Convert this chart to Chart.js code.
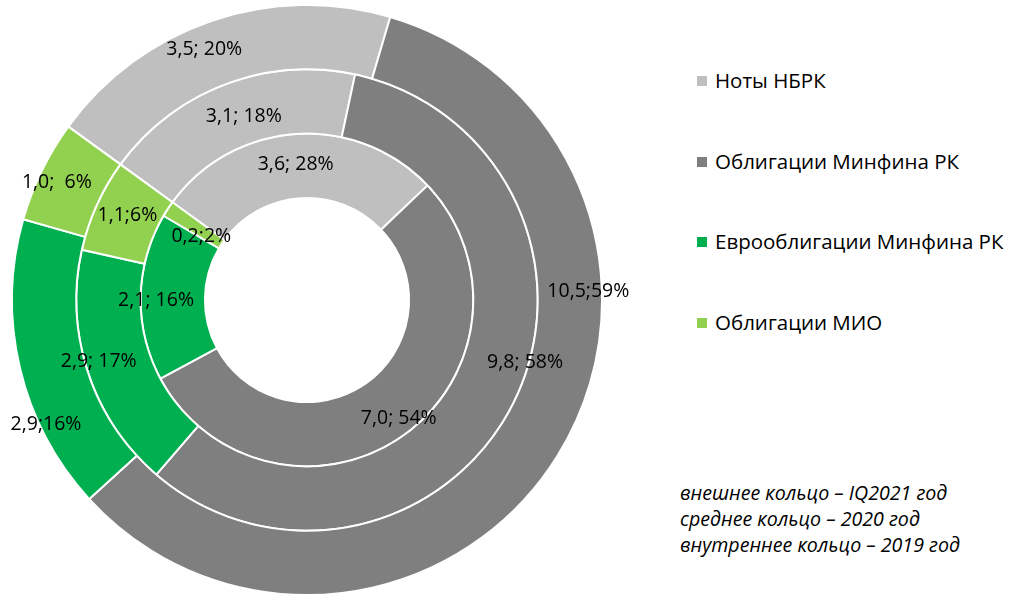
<!DOCTYPE html>
<html lang="ru">
<head>
  <meta charset="UTF-8">
  <title>Структура портфеля</title>
  <script src="https://cdn.jsdelivr.net/npm/chart.js"></script>
  <style>
    body {
      margin: 0;
      background: #fff;
      font-family: "Open Sans", sans-serif;
      color: #000;
    }
    #wrap {
      position: relative;
      width: 1010px;
      height: 598px;
      overflow: hidden;
    }
    #chartBox {
      position: absolute;
      left: 0;
      top: 0;
      width: 640px;
      height: 598px;
    }
    #legend {
      position: absolute;
      left: 697px;
      top: 0;
    }
    .item {
      position: absolute;
      left: 0;
      white-space: nowrap;
      font-size: 20.5px;
      line-height: 24px;
      transform: translateY(-50%);
    }
    .item span.box {
      display: inline-block;
      width: 10px;
      height: 10px;
      margin-right: 8px;
      vertical-align: 2px;
    }
    #note {
      position: absolute;
      left: 680px;
      top: 480px;
      font-style: italic;
      font-size: 19.6px;
      line-height: 26px;
      white-space: nowrap;
    }
  </style>
</head>
<body>
<div id="wrap">
  <div id="chartBox"><canvas id="rings"></canvas></div>
  <div id="legend"></div>
  <div id="note"></div>
</div>

<script>
  // categories (legend order)
  const categories = ['Ноты НБРК', 'Облигации Минфина РК', 'Еврооблигации Минфина РК', 'Облигации МИО'];
  const colors = ['#BFBFBF', '#7F7F7F', '#00B050', '#92D050'];

  // values, трлн тенге
  const outerValues = [3.5, 10.5, 2.9, 1.0];   // IQ2021
  const middleValues = [3.1, 9.8, 2.9, 1.1];   // 2020
  const innerValues = [3.6, 7.0, 2.1, 0.2];    // 2019

  // data labels as printed on the chart
  const outerLabels = ['3,5; 20%', '10,5;59%', '2,9;16%', '1,0;  6%'];
  const middleLabels = ['3,1; 18%', '9,8; 58%', '2,9; 17%', '1,1;6%'];
  const innerLabels = ['3,6; 28%', '7,0; 54%', '2,1; 16%', '0,2;2%'];

  const noteLines = [
    'внешнее кольцо – IQ2021 год',
    'среднее кольцо – 2020 год',
    'внутреннее кольцо – 2019 год'
  ];

  // where each label sits inside its arc: [fraction along arc, fraction across ring]
  const labelSpots = [
    [[0.45, 0.62], [0.34, 0.79], [0.29, 0.91], [0.46, 0.71]],
    [[0.53, 0.43], [0.45, 0.94], [0.53, 0.79], [0.54, 0.50]],
    [[0.49, 0.53], [0.49, 0.74], [0.48, 0.76], [0.10, 0.33]]
  ];

  const ringLabels = {
    id: 'ringLabels',
    afterDatasetsDraw(chart) {
      const ctx = chart.ctx;
      ctx.save();
      ctx.font = '19.5px "Open Sans", sans-serif';
      ctx.fillStyle = '#000';
      ctx.textAlign = 'center';
      ctx.textBaseline = 'middle';
      chart.data.datasets.forEach((ds, di) => {
        const meta = chart.getDatasetMeta(di);
        meta.data.forEach((arc, i) => {
          const p = arc.getProps(['x', 'y', 'startAngle', 'endAngle', 'innerRadius', 'outerRadius'], true);
          const spot = labelSpots[di][i];
          const a = p.startAngle + spot[0] * (p.endAngle - p.startAngle);
          const r = p.innerRadius + spot[1] * (p.outerRadius - p.innerRadius);
          ctx.fillText(ds.labelsText[i], p.x + Math.cos(a) * r, p.y + Math.sin(a) * r);
        });
      });
      ctx.restore();
    }
  };

  const ctx = document.getElementById('rings').getContext('2d');
  new Chart(ctx, {
    type: 'doughnut',
    data: {
      labels: categories,
      datasets: [
        { label: 'IQ2021', data: outerValues, labelsText: outerLabels, backgroundColor: colors },
        { label: '2020', data: middleValues, labelsText: middleLabels, backgroundColor: colors },
        { label: '2019', data: innerValues, labelsText: innerLabels, backgroundColor: colors }
      ]
    },
    options: {
      responsive: true,
      maintainAspectRatio: false,
      animation: false,
      rotation: -54,
      radius: 295,
      cutout: '34.6%',
      borderColor: '#fff',
      borderWidth: 2,
      layout: { padding: { top: 2, right: 26 } },
      plugins: {
        legend: { display: false },
        tooltip: { enabled: false }
      }
    },
    plugins: [ringLabels]
  });

  // legend on the right
  const legend = document.getElementById('legend');
  const legendY = [80, 161, 241, 322];
  categories.forEach((name, i) => {
    const row = document.createElement('div');
    row.className = 'item';
    row.style.top = legendY[i] + 'px';
    row.innerHTML = '<span class="box" style="background:' + colors[i] + '"></span>' + name;
    legend.appendChild(row);
  });

  document.getElementById('note').innerHTML = noteLines.join('<br>');
</script>
</body>
</html>
